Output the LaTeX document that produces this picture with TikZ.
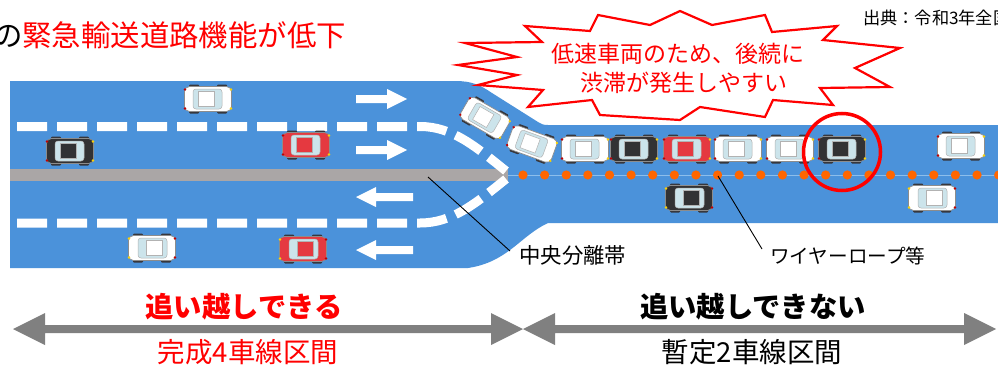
\documentclass[tikz,border=0pt]{standalone}
\usepackage{fontspec}
\newfontfamily\jp{Noto Sans CJK JP}
\definecolor{roadblue}{RGB}{75,146,218}
\definecolor{medgray}{RGB}{170,166,166}
\definecolor{ropeline}{RGB}{140,190,236}
\definecolor{dotorange}{RGB}{255,102,0}
\definecolor{glass}{RGB}{204,228,235}
\definecolor{tire}{RGB}{55,55,60}
\definecolor{carred}{RGB}{229,57,64}
\definecolor{carblack}{RGB}{50,50,52}
\definecolor{carwhite}{RGB}{255,255,255}
\definecolor{spangray}{RGB}{128,128,128}
\definecolor{alertred}{RGB}{255,0,0}
\def\carcol{carwhite}
\tikzset{
  carcolor/.store in=\carcol,
  pics/car/.style={code={
    % wheels
    \foreach \sx in {-14,14}{\foreach \sy in {-12.5,12.5}{
      \fill[tire, rounded corners=1] (\sx-5,\sy-2) rectangle (\sx+5,\sy+2);}}
    % body
    \filldraw[fill=\carcol, draw=black!45, line width=0.7, rounded corners=5]
      (-23.5,-12.5) rectangle (23.5,12.5);
    % cabin glass and roof
    \filldraw[fill=glass, draw=black!30, line width=0.5, rounded corners=3]
      (-15,-10) rectangle (14,10);
    \filldraw[fill=\carcol, draw=black!30, line width=0.5] (-10,-7.5) rectangle (6,7.5);
    % lamps
    \fill[yellow!70!orange] (23,-9.5) circle (1.3) (23,9.5) circle (1.3);
    \fill[red!75!black] (-23,-9.5) circle (1.3) (-23,9.5) circle (1.3);
  }},
  lanedash/.style={white, line width=9, dash pattern=on 30 off 10},
  lanearrow/.style={fill=white},
  leader/.style={black, line width=0.9},
  jplabel/.style={inner sep=0, anchor=base west},
}
\newcommand\rightarrowshape[1]{%
  \fill[lanearrow] (356,#1-4) -- (387,#1-4) -- (387,#1-10) -- (407,#1)
    -- (387,#1+10) -- (387,#1+4) -- (356,#1+4) -- cycle;}
\newcommand\leftarrowshape[1]{%
  \fill[lanearrow] (413,#1-4) -- (376,#1-4) -- (376,#1-10) -- (356,#1)
    -- (376,#1+10) -- (376,#1+4) -- (413,#1+4) -- cycle;}
\newcommand\spanarrow[3]{%
  \fill[spangray] (#1,#3) -- (#1+32,#3-16) -- (#1+32,#3-4) -- (#2-32,#3-4)
    -- (#2-32,#3-16) -- (#2,#3) -- (#2-32,#3+16) -- (#2-32,#3+4)
    -- (#1+32,#3+4) -- (#1+32,#3+16) -- cycle;}
\begin{document}
\begin{tikzpicture}[x=1pt,y=-1pt]
\useasboundingbox (0,0) rectangle (998,364);
\clip (0,0) rectangle (998,364);

% road surface: four lanes narrowing to two
\fill[roadblue] (10,81) -- (455,81) .. controls (472,81) and (480,85) .. (492,93)
  -- (538,122) .. controls (541,124) and (543,125) .. (548,125) -- (998,125)
  -- (998,223) -- (548,223) .. controls (520,236) and (508,262) .. (468,268)
  -- (10,268) -- cycle;

% wire rope line and central reservation
\draw[ropeline, line width=1] (508,175) -- (998,175);
\fill[medgray] (10,169) rectangle (508,181);
\foreach \k in {0,...,22} \fill[dotorange] ({523+21.62*\k},175) circle (4.6);

% lane markings
\draw[lanedash] (17,126.5) -- (420,126.5) .. controls (452,126.5) and (475,146) .. (506,171);
\draw[lanedash] (17,223) -- (420,223) .. controls (452,223) and (475,204) .. (506,179);

% direction arrows
\rightarrowshape{99}
\rightarrowshape{150}
\leftarrowshape{197}
\leftarrowshape{250}

% vehicles on the four-lane section
\pic[carcolor=carwhite] at (208,99) {car};
\pic[carcolor=carblack] at (70,151) {car};
\pic[carcolor=carred] at (306,145) {car};
\pic[carcolor=carwhite, rotate=180] at (152,248) {car};
\pic[carcolor=carred, rotate=180] at (303,249) {car};
% merging vehicles
\pic[carcolor=carwhite, rotate=-30] at (485,118) {car};
\pic[carcolor=carwhite, rotate=-20] at (532,144) {car};
% queue behind the slow vehicle
\pic[carcolor=carwhite] at (585,149) {car};
\pic[carcolor=carblack] at (634,149) {car};
\pic[carcolor=carred] at (687,149) {car};
\pic[carcolor=carwhite] at (738,149) {car};
\pic[carcolor=carwhite] at (790,149) {car};
\pic[carcolor=carblack] at (842,149) {car};
\pic[carcolor=carwhite] at (961,146) {car};
% oncoming lane
\pic[carcolor=carblack, rotate=180] at (689,198) {car};
\pic[carcolor=carwhite, rotate=180] at (932,198) {car};

% slow vehicle marker
\draw[alertred, line width=3.5] (842,152) circle (38.5);

% callout burst
\draw[alertred, fill=white, line width=2.2, line join=miter]
  (525,26) -- (542,42) -- (465,43) -- (517,57) -- (458,65) -- (517,75)
  -- (478,85) -- (543,90) -- (528,107) -- (592,100) -- (600,115) -- (680,120)
  -- (700,107) -- (765,117) -- (773,100) -- (833,105) -- (820,88) -- (890,87)
  -- (855,68) -- (900,48) -- (823,40) -- (837,26) -- (772,32) -- (765,15)
  -- (712,25) -- (680,11) -- (650,25) -- (598,15) -- (590,31) -- cycle;
\node[jplabel, anchor=base, text=alertred, font=\jp\fontsize{23}{23}\selectfont]
  (burst1) at (678,62) {低速車両のため、後続に};
\node[jplabel, anchor=base, text=alertred, font=\jp\fontsize{23}{23}\selectfont]
  (burst2) at (684,91) {渋滞が発生しやすい};

% headline and source
\node[jplabel, font=\jp\fontsize{29.4}{30}\selectfont] (title) at (-7,46)
  {の\textcolor{alertred}{緊急輸送道路機能が低下}};
\node[jplabel, font=\jp\fontsize{17.2}{18}\selectfont] (source) at (863,24)
  {出典：令和3年全国};

% callout labels
\node[jplabel, font=\jp\fontsize{21.4}{22}\selectfont] (lblmedian) at (519,263) {中央分離帯};
\node[jplabel, font=\jp\fontsize{19.6}{20}\selectfont] (lblrope) at (770,263) {ワイヤーロープ等};
\coordinate (medianpt) at (428,177);
\coordinate (medianend) at (510,251);
\coordinate (ropept) at (718,176);
\coordinate (ropeend) at (762,249);
\draw[leader] (medianpt) -- (medianend);
\draw[leader] (ropept) -- (ropeend);

% section spans
\spanarrow{13}{523}{329}
\spanarrow{523}{996}{329}
\node[jplabel, anchor=base, text=alertred, font=\jp\bfseries\fontsize{28.3}{29}\selectfont]
  (passyes) at (244,317) {追い越しできる};
\node[jplabel, anchor=base, font=\jp\bfseries\fontsize{28.3}{29}\selectfont]
  (passno) at (753,317) {追い越しできない};
\node[jplabel, anchor=base, text=alertred, font=\jp\fontsize{27.5}{28}\selectfont]
  (sec4) at (248,362) {完成4車線区間};
\node[jplabel, anchor=base, font=\jp\fontsize{27.5}{28}\selectfont]
  (sec2) at (752,362) {暫定2車線区間};
\end{tikzpicture}
\end{document}
